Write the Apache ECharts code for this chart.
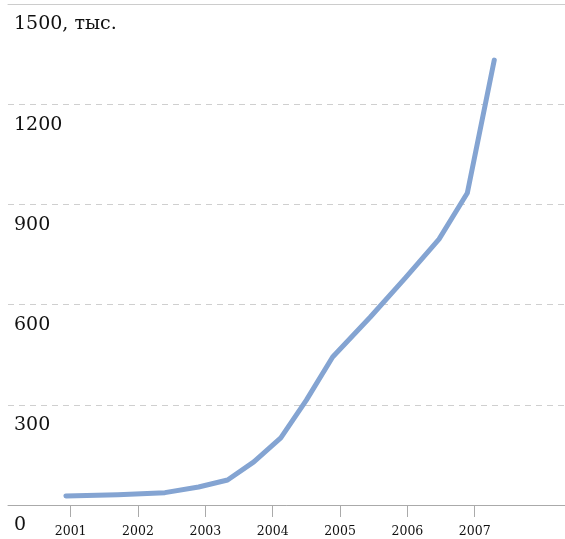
<!DOCTYPE html>
<html>
<head>
<meta charset="utf-8">
<script src="https://cdn.jsdelivr.net/npm/echarts@6/dist/echarts.min.js"></script>
<style>
html,body{margin:0;padding:0;background:#fff;}
#c{width:565px;height:539px;}
</style>
</head>
<body>
<div id="c"></div>
<script>
// data (x = fractional year, y = thousands)
var years  = [2000.93, 2001.7, 2002.4, 2002.9, 2003.33, 2003.72, 2004.12, 2004.5, 2004.89, 2005.45, 2005.97, 2006.47, 2006.89, 2007.29];
var values = [27, 31, 37, 54, 75, 129, 201, 314, 443, 563, 680, 796, 934, 1332];
var yearTicks = [2001, 2002, 2003, 2004, 2005, 2006, 2007];
var yUnit = ', тыс.';

var chart = echarts.init(document.getElementById('c'));
var pts = years.map(function (y, i) { return [y, values[i]]; });
var font = '"DejaVu Serif", serif';

chart.setOption({
  animation: false,
  grid: { left: 8, right: 0, top: 4, bottom: 34, containLabel: false },
  xAxis: [{
    type: 'value',
    min: 2000.07,
    max: 2008.34,
    axisLine: { show: true, lineStyle: { color: '#aaaaaa', width: 1 } },
    axisTick: { show: true, length: 12, customValues: yearTicks, lineStyle: { color: '#aaaaaa', width: 1 } },
    axisLabel: { customValues: yearTicks, margin: 20, color: '#111111', fontFamily: font, fontSize: 12.5,
      formatter: function (v) { return String(v); } },
    splitLine: { show: false }
  }, {
    type: 'value',
    position: 'top',
    min: 2000.07,
    max: 2008.34,
    axisLine: { show: true, lineStyle: { color: '#cccccc', width: 1 } },
    axisTick: { show: false },
    axisLabel: { show: false },
    splitLine: { show: false }
  }],
  yAxis: {
    type: 'value',
    min: 0,
    max: 1500,
    interval: 300,
    axisLine: { show: false },
    axisTick: { show: false },
    axisLabel: {
      inside: true,
      margin: 6,
      align: 'left',
      verticalAlign: 'top',
      padding: [11, 0, 0, 0],
      color: '#111111',
      fontFamily: font,
      fontSize: 19,
      formatter: function (v) { return v === 1500 ? v + yUnit : String(v); }
    },
    splitLine: { show: true, lineStyle: { color: '#cfcfcf', type: [6, 5], width: 1 } }
  },
  series: [{
    type: 'line',
    data: pts,
    showSymbol: false,
    symbol: 'none',
    smooth: false,
    lineStyle: { color: '#84a4d2', width: 5, cap: 'round', join: 'round' }
  }]
});
</script>
</body>
</html>
